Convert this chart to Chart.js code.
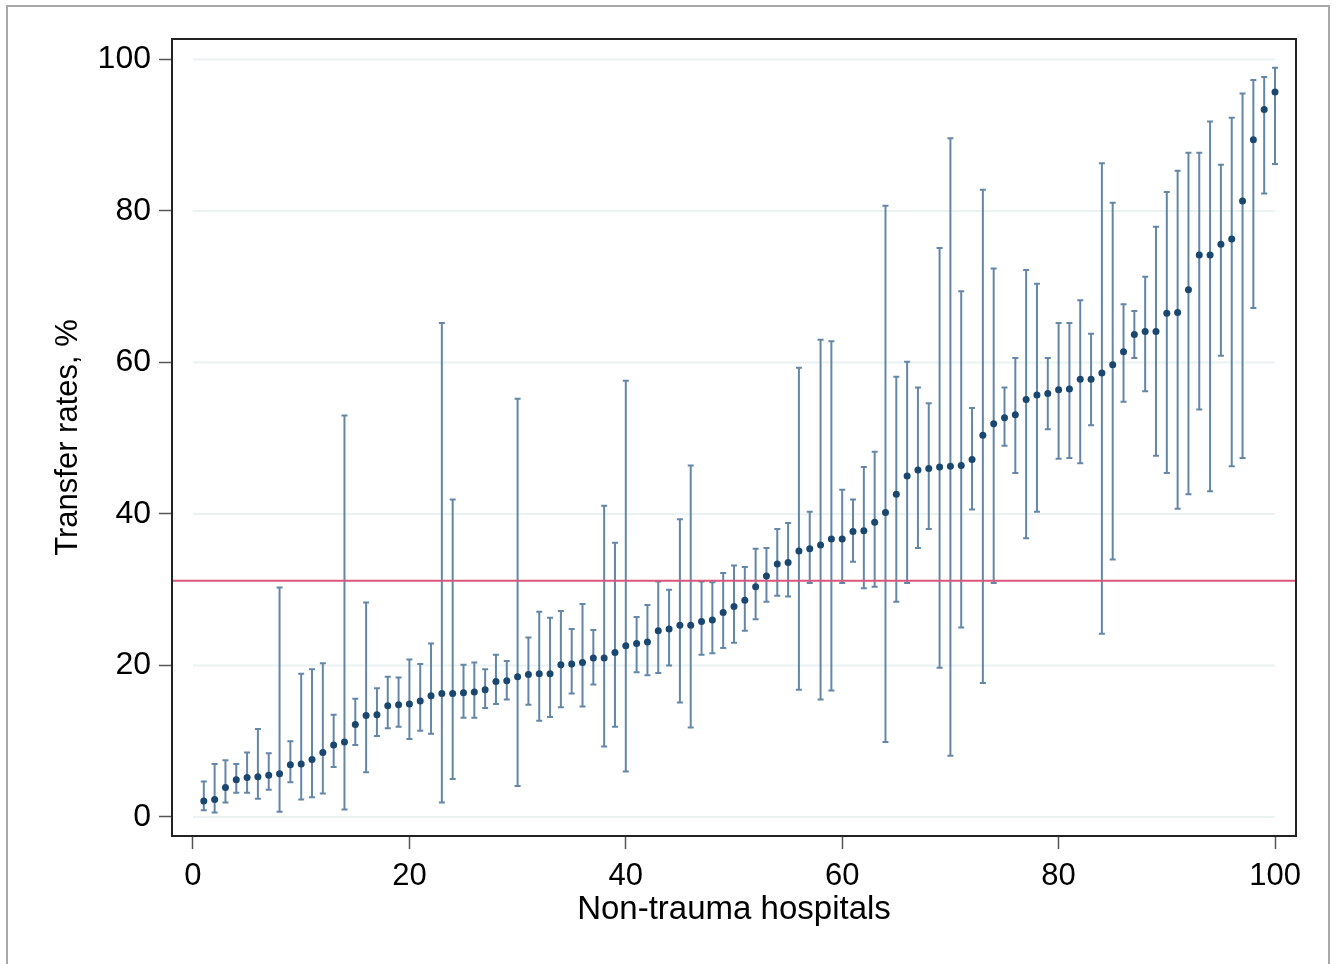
<!DOCTYPE html>
<html>
<head>
<meta charset="utf-8">
<title>Transfer rates, non-trauma hospitals</title>
<script src="https://cdn.jsdelivr.net/npm/chart.js@4.4.1/dist/chart.umd.min.js"></script>
<style>
  html, body { margin: 0; padding: 0; background: #fff; overflow: hidden; }
  #frame { position: absolute; left: 6px; top: 5px; width: 1324px; height: 1000px; border: 2px solid #a9a9a9; box-sizing: border-box; }
  #wrap { position: absolute; left: 0; top: 0; width: 1338px; height: 964px; }
</style>
</head>
<body>
<div id="frame"></div>
<div id="wrap"><canvas id="chart" width="1338" height="964"></canvas></div>
<script>
// Hospital rank (x) and transfer rate with 95% CI (y)
const hospitals = [
    1, 2, 3, 4, 5, 6, 7, 8, 9, 10, 11, 12, 13, 14, 15, 16, 17, 18, 19, 20,
    21, 22, 23, 24, 25, 26, 27, 28, 29, 30, 31, 32, 33, 34, 35, 36, 37, 38, 39, 40,
    41, 42, 43, 44, 45, 46, 47, 48, 49, 50, 51, 52, 53, 54, 55, 56, 57, 58, 59, 60,
    61, 62, 63, 64, 65, 66, 67, 68, 69, 70, 71, 72, 73, 74, 75, 76, 77, 78, 79, 80,
    81, 82, 83, 84, 85, 86, 87, 88, 89, 90, 91, 92, 93, 94, 95, 96, 97, 98, 99, 100
];
const transferRate = [
    2.1, 2.3, 3.9, 4.9, 5.2, 5.3, 5.5, 5.7, 6.9, 7.0,
    7.6, 8.5, 9.5, 9.9, 12.2, 13.4, 13.5, 14.7, 14.8, 14.9,
    15.3, 16.0, 16.3, 16.3, 16.4, 16.5, 16.8, 17.9, 18.0, 18.5,
    18.8, 18.9, 18.9, 20.1, 20.2, 20.4, 21.0, 21.0, 21.7, 22.6,
    22.9, 23.1, 24.6, 24.8, 25.3, 25.3, 25.8, 26.0, 27.0, 27.8,
    28.6, 30.4, 31.8, 33.4, 33.6, 35.1, 35.4, 35.9, 36.7, 36.7,
    37.7, 37.8, 38.9, 40.2, 42.6, 45.0, 45.8, 46.0, 46.2, 46.3,
    46.4, 47.2, 50.4, 51.9, 52.7, 53.1, 55.1, 55.7, 55.9, 56.4,
    56.5, 57.8, 57.8, 58.6, 59.7, 61.4, 63.7, 64.1, 64.1, 66.5,
    66.6, 69.6, 74.2, 74.2, 75.6, 76.3, 81.3, 89.4, 93.4, 95.7
];
const ciLower = [
    0.9, 0.6, 1.9, 3.2, 3.2, 2.4, 3.6, 0.7, 4.6, 2.3,
    2.6, 3.1, 6.6, 1.0, 9.5, 5.9, 10.7, 11.7, 11.9, 10.3,
    11.4, 11.0, 1.9, 5.0, 13.1, 13.1, 14.4, 14.9, 15.5, 4.1,
    14.8, 12.7, 13.2, 14.5, 16.3, 14.6, 17.5, 9.3, 11.9, 6.0,
    19.1, 18.7, 19.0, 20.0, 15.1, 11.8, 21.4, 21.6, 22.3, 23.0,
    24.6, 26.1, 28.4, 29.2, 29.1, 16.8, 30.9, 15.5, 16.7, 30.9,
    33.7, 30.2, 30.4, 9.9, 28.4, 30.9, 35.5, 38.0, 19.7, 8.1,
    25.0, 40.6, 17.7, 30.9, 49.0, 45.4, 36.8, 40.3, 51.2, 47.3,
    47.4, 46.7, 51.7, 24.2, 34.0, 54.8, 60.6, 56.2, 47.7, 45.4,
    40.7, 42.6, 53.8, 43.0, 60.9, 46.3, 47.4, 67.2, 82.3, 86.2
];
const ciUpper = [
    4.7, 7.0, 7.5, 7.0, 8.5, 11.6, 8.4, 30.3, 10.0, 18.9,
    19.5, 20.3, 13.5, 53.0, 15.6, 28.3, 17.0, 18.5, 18.4, 20.8,
    20.2, 22.9, 65.2, 41.9, 20.1, 20.4, 19.5, 21.4, 20.6, 55.2,
    23.7, 27.1, 26.3, 27.2, 24.8, 28.1, 24.7, 41.1, 36.2, 57.6,
    26.4, 28.0, 31.1, 30.0, 39.3, 46.4, 31.1, 31.0, 32.2, 33.2,
    33.0, 35.4, 35.5, 38.0, 38.8, 59.3, 40.3, 63.0, 62.8, 43.2,
    41.9, 46.2, 48.2, 80.7, 58.1, 60.1, 56.7, 54.6, 75.1, 89.6,
    69.4, 54.0, 82.8, 72.4, 56.7, 60.6, 72.2, 70.4, 60.6, 65.2,
    65.2, 68.2, 63.8, 86.3, 81.1, 67.7, 66.8, 71.3, 77.9, 82.5,
    85.3, 87.7, 87.7, 91.8, 86.1, 92.3, 95.5, 97.3, 97.7, 98.9
];
const overallRate = 31.2;
const xTicks = [0, 20, 40, 60, 80, 100];
const yTicks = [0, 20, 40, 60, 80, 100];

const FONT = "'Liberation Sans', Arial, Helvetica, sans-serif";
const colors = {
    point: '#1a476f',
    whisker: '#6487a8',
    refLine: '#d9577a',
    grid: '#eaf2f2',
    frame: '#222222',
    tick: '#555555'
};

// Light horizontal grid, drawn only between x = 0 and x = 100 like Stata does
const gridPlugin = {
    id: 'gridPlugin',
    beforeDatasetsDraw(chart) {
        const { ctx, scales: { x, y } } = chart;
        ctx.save();
        ctx.strokeStyle = colors.grid;
        ctx.lineWidth = 2;
        yTicks.forEach(v => {
            const py = y.getPixelForValue(v);
            ctx.beginPath();
            ctx.moveTo(x.getPixelForValue(xTicks[0]), py);
            ctx.lineTo(x.getPixelForValue(xTicks[xTicks.length - 1]), py);
            ctx.stroke();
        });
        ctx.restore();
    }
};

// Confidence interval whiskers with small caps, plus the overall rate line
const errorBarPlugin = {
    id: 'errorBarPlugin',
    beforeDatasetsDraw(chart) {
        const { ctx, chartArea, scales: { x, y } } = chart;
        ctx.save();
        ctx.strokeStyle = colors.whisker;
        ctx.lineWidth = 2;
        const cap = 3;
        hospitals.forEach((h, i) => {
            const px = x.getPixelForValue(h);
            const lo = y.getPixelForValue(ciLower[i]);
            const hi = y.getPixelForValue(ciUpper[i]);
            ctx.beginPath();
            ctx.moveTo(px, lo);
            ctx.lineTo(px, hi);
            ctx.moveTo(px - cap, lo);
            ctx.lineTo(px + cap, lo);
            ctx.moveTo(px - cap, hi);
            ctx.lineTo(px + cap, hi);
            ctx.stroke();
        });

        const ry = y.getPixelForValue(overallRate);
        ctx.strokeStyle = colors.refLine;
        ctx.lineWidth = 2;
        ctx.beginPath();
        ctx.moveTo(chartArea.left, ry);
        ctx.lineTo(chartArea.right, ry);
        ctx.stroke();
        ctx.restore();
    }
};

// Black box round the plot region
const framePlugin = {
    id: 'framePlugin',
    afterDraw(chart) {
        const { ctx, chartArea } = chart;
        ctx.save();
        ctx.strokeStyle = colors.frame;
        ctx.lineWidth = 2;
        ctx.strokeRect(chartArea.left, chartArea.top,
            chartArea.right - chartArea.left, chartArea.bottom - chartArea.top);
        ctx.restore();
    }
};

const points = hospitals.map((h, i) => ({ x: h, y: transferRate[i] }));

new Chart(document.getElementById('chart'), {
    type: 'scatter',
    data: {
        datasets: [{
            label: 'Transfer rate',
            data: points,
            backgroundColor: colors.point,
            borderColor: colors.point,
            pointRadius: 3.5,
            pointBorderWidth: 0
        }]
    },
    options: {
        responsive: false,
        animation: false,
        layout: {
            padding: { top: 39, right: 42, left: 0, bottom: 0 }
        },
        plugins: {
            legend: { display: false },
            tooltip: { enabled: false }
        },
        scales: {
            x: {
                type: 'linear',
                min: -1.94,
                max: 101.94,
                afterBuildTicks: scale => { scale.ticks = xTicks.map(v => ({ value: v })); },
                afterFit: scale => { scale.height = 128; },
                grid: {
                    drawOnChartArea: false,
                    drawTicks: true,
                    tickLength: 13,
                    tickWidth: 1.5,
                    tickColor: colors.tick
                },
                border: { display: false },
                ticks: {
                    color: '#000',
                    font: { family: FONT, size: 31 },
                    padding: 9,
                    maxRotation: 0,
                    autoSkip: false
                },
                title: {
                    display: true,
                    text: 'Non-trauma hospitals',
                    color: '#000',
                    font: { family: FONT, size: 33 },
                    padding: { top: 0, bottom: 34 }
                }
            },
            y: {
                type: 'linear',
                min: -2.51,
                max: 102.7,
                afterBuildTicks: scale => { scale.ticks = yTicks.map(v => ({ value: v })); },
                afterFit: scale => { scale.width = 172; },
                grid: {
                    drawOnChartArea: false,
                    drawTicks: true,
                    tickLength: 13,
                    tickWidth: 1.5,
                    tickColor: colors.tick
                },
                border: { display: false },
                ticks: {
                    color: '#000',
                    font: { family: FONT, size: 32 },
                    padding: 8
                },
                title: {
                    display: true,
                    text: 'Transfer rates, %',
                    color: '#000',
                    font: { family: FONT, size: 31 },
                    padding: { top: 50, bottom: 0 }
                }
            }
        }
    },
    plugins: [gridPlugin, errorBarPlugin, framePlugin]
});
</script>
</body>
</html>
